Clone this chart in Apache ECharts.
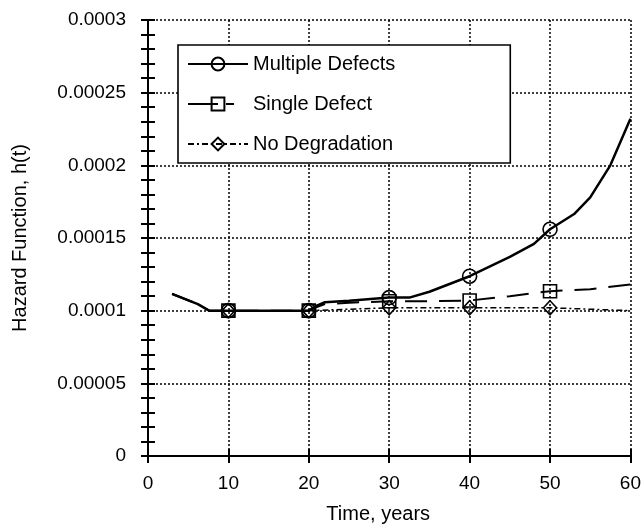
<!DOCTYPE html>
<html>
<head>
<meta charset="utf-8">
<script src="https://cdn.jsdelivr.net/npm/echarts@6/dist/echarts.min.js"></script>
<style>html,body{margin:0;padding:0;background:#fff}#c{width:644px;height:529px}</style>
</head>
<body>
<div id="c"></div>
<script>
// ---- data ----
var seriesNames = ['Multiple Defects', 'Single Defect', 'No Degradation'];
var markerYears = [10, 20, 30, 40, 50];

var multipleT = [3, 6.2, 7.6, 10, 20, 21, 22, 25, 30, 32.5, 35, 40, 45, 48, 50, 53, 55, 57.5, 60];
var multipleH = [0.0001115, 0.0001045, 0.0001, 0.0001, 0.0001, 0.0001035, 0.0001058, 0.0001068, 0.000109, 0.000109, 0.000113, 0.0001237, 0.000137, 0.000146, 0.000156, 0.0001665, 0.000178, 0.0002, 0.000232];

var singleT = [3, 6.2, 7.6, 10, 20, 21, 22, 25, 30, 35, 40, 45, 50, 55, 60];
var singleH = [0.0001115, 0.0001045, 0.0001, 0.0001, 0.0001, 0.0001025, 0.0001045, 0.0001055, 0.0001065, 0.0001065, 0.000107, 0.00011, 0.0001134, 0.0001148, 0.000118];

var noDegT = [3, 6.2, 7.6, 10, 20, 30, 40, 50, 60];
var noDegH = [0.0001115, 0.0001045, 0.0001, 0.0001, 0.0001, 0.000102, 0.000102, 0.000102, 0.0001];

var xTicks = [0, 10, 20, 30, 40, 50, 60];
var yTickLabels = ['0', '0.00005', '0.0001', '0.00015', '0.0002', '0.00025', '0.0003'];

// ---- chart ----
var FONT = 'Liberation Sans, Arial, Helvetica, sans-serif';
function build(ts, hs) {
  return ts.map(function (t, i) {
    var item = { value: [t, hs[i]] };
    if (markerYears.indexOf(t) < 0) item.symbol = 'none';
    return item;
  });
}
var markerStyle = { color: 'rgba(255,255,255,0)', borderColor: '#000', borderWidth: 1.6 };

var chart = echarts.init(document.getElementById('c'), null, { renderer: 'canvas' });
var baseX = { type: 'value', min: xTicks[0], max: xTicks[xTicks.length - 1], interval: 10, gridIndex: 0 };
var baseY = { type: 'value', min: 0, max: 0.0003, interval: 0.00005, gridIndex: 0 };
function ax(base, extra) { var o = {}; for (var k in base) o[k] = base[k]; for (var k2 in extra) o[k2] = extra[k2]; return o; }
var lineBlack = { lineStyle: { color: '#000', width: 2 } };

chart.setOption({
  backgroundColor: '#fff',
  animation: false,
  textStyle: { fontFamily: FONT },
  grid: { left: 148, right: 9, top: 20, bottom: 70, containLabel: false },
  legend: {
    orient: 'vertical', left: 178, top: 45,
    padding: [8, 115, 8, 9],
    itemWidth: 60, itemHeight: 16, itemGap: 18,
    backgroundColor: '#fff', borderColor: '#000', borderWidth: 1.6, borderRadius: 0,
    textStyle: { fontFamily: FONT, fontSize: 20, color: '#000', lineHeight: 22 },
    data: [
      { name: seriesNames[0] },
      { name: seriesNames[1], lineStyle: { type: [30, 8, 8, 14] } },
      { name: seriesNames[2] }
    ]
  },
  xAxis: [
    ax(baseX, { position: 'bottom', axisLine: lineBlack, axisTick: { show: true, inside: false, length: 7, lineStyle: { color: '#000', width: 2 } },
      axisLabel: { color: '#000', fontSize: 19, fontFamily: FONT, margin: 18 },
      splitLine: { show: true, lineStyle: { color: '#000', width: 1.5, type: [2, 2] } },
      name: 'Time, years', nameLocation: 'middle', nameGap: 48,
      nameTextStyle: { color: '#000', fontSize: 20, fontFamily: FONT, padding: [0, 22, 0, 0] } }),
    ax(baseX, { position: 'bottom', axisLine: { show: false }, axisTick: { show: true, inside: true, length: 7, lineStyle: { color: '#000', width: 2 } },
      axisLabel: { show: false }, splitLine: { show: false } }),
    ax(baseX, { position: 'top', axisLine: lineBlack, axisTick: { show: true, inside: false, length: 7, lineStyle: { color: '#000', width: 2 } },
      axisLabel: { show: false }, splitLine: { show: false } }),
    ax(baseX, { position: 'top', axisLine: { show: false }, axisTick: { show: true, inside: true, length: 7, lineStyle: { color: '#000', width: 2 } },
      axisLabel: { show: false }, splitLine: { show: false } })
  ],
  yAxis: [
    ax(baseY, { position: 'left', axisLine: lineBlack, axisTick: { show: true, inside: false, length: 7, lineStyle: { color: '#000', width: 2 } },
      axisLabel: { color: '#000', fontSize: 19, fontFamily: FONT, margin: 22,
        formatter: function (v) { return yTickLabels[Math.round(v / 0.00005)]; } },
      splitLine: { show: true, lineStyle: { color: '#000', width: 1.5, type: [2, 2] } },
      name: 'Hazard Function, h(t)', nameLocation: 'middle', nameGap: 118,
      nameTextStyle: { color: '#000', fontSize: 20, fontFamily: FONT } }),
    ax(baseY, { position: 'left', axisLine: { show: false }, axisTick: { show: true, inside: true, length: 7, lineStyle: { color: '#000', width: 2 } },
      minorTick: { show: true, splitNumber: 5, length: 7, lineStyle: { color: '#000', width: 2 } },
      axisLabel: { show: false }, splitLine: { show: false } }),
    ax(baseY, { position: 'right', axisLine: lineBlack, axisTick: { show: true, inside: false, length: 7, lineStyle: { color: '#000', width: 2 } },
      axisLabel: { show: false }, splitLine: { show: false } }),
    ax(baseY, { position: 'right', axisLine: { show: false }, axisTick: { show: true, inside: true, length: 7, lineStyle: { color: '#000', width: 2 } },
      minorTick: { show: true, splitNumber: 5, length: 7, lineStyle: { color: '#000', width: 2 } },
      axisLabel: { show: false }, splitLine: { show: false } })
  ],
  series: [
    { name: seriesNames[1], type: 'line', xAxisIndex: 0, yAxisIndex: 0, data: build(singleT, singleH),
      symbol: 'rect', symbolSize: 13, showAllSymbol: true, z: 3,
      lineStyle: { color: '#000', width: 2, type: [22, 12] }, itemStyle: markerStyle },
    { name: seriesNames[2], type: 'line', xAxisIndex: 0, yAxisIndex: 0, data: build(noDegT, noDegH),
      symbol: 'diamond', symbolSize: [13, 14], showAllSymbol: true, z: 3,
      lineStyle: { color: '#000', width: 1.5, type: [6, 3, 2, 3] }, itemStyle: markerStyle },
    { name: seriesNames[0], type: 'line', xAxisIndex: 0, yAxisIndex: 0, data: build(multipleT, multipleH),
      symbol: 'circle', symbolSize: 14, showAllSymbol: true, z: 4,
      lineStyle: { color: '#000', width: 2.5, type: 'solid' }, itemStyle: markerStyle }
  ]
});
</script>
</body>
</html>
